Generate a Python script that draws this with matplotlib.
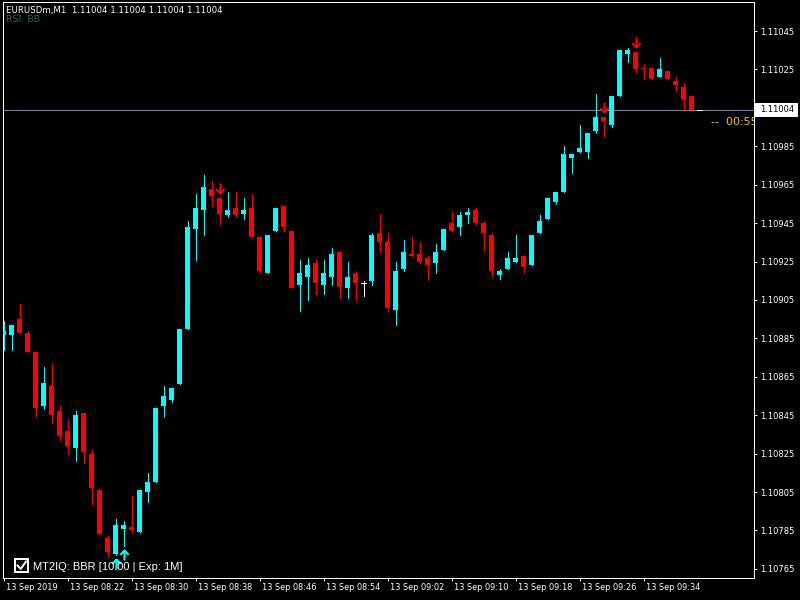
import numpy as np
import matplotlib
matplotlib.use("Agg")
import matplotlib.pyplot as plt
from matplotlib.path import Path
from matplotlib.patches import Rectangle
from matplotlib.lines import Line2D
from matplotlib.transforms import offset_copy, ScaledTranslation, IdentityTransform

# ---------------- data ----------------
symbol = "EURUSDm,M1"
indicators = "RSI  BB"
legend_label = "MT2IQ: BBR [10.00 | Exp: 1M]"
countdown = "--  00:55"

# OHLC in price points (1e-5)
open_pts = [110887, 110887, 110895, 110888, 110878, 110850, 110860, 110847, 110837, 110828,
            110846, 110825, 110806, 110781, 110773, 110786, 110787, 110784, 110805, 110810,
            110850, 110853, 110861, 110890, 110942, 110952, 110963, 110958, 110949, 110953,
            110950, 110953, 110938, 110919, 110941, 110954, 110941, 110913, 110917, 110924,
            110913, 110917, 110930, 110911, 110919, 110914, 110915, 110940, 110935, 110900,
            110921, 110929, 110929, 110927, 110924, 110931, 110945, 110943, 110949, 110952,
            110945, 110939, 110918, 110921, 110925, 110928, 110923, 110940, 110947, 110956,
            110961, 110979, 110982, 110982, 110993, 111000, 110996, 111011, 111033, 111034,
            111026, 111026, 111021, 111024, 111019, 111016, 111011, 111004]
high_pts = [110894, 110892, 110903, 110889, 110878, 110870, 110872, 110850, 110843, 110847,
            110846, 110827, 110806, 110782, 110791, 110790, 110803, 110806, 110815, 110849,
            110860, 110859, 110890, 110946, 110960, 110970, 110967, 110958, 110961, 110961,
            110958, 110960, 110938, 110939, 110953, 110954, 110941, 110926, 110927, 110926,
            110926, 110932, 110930, 110925, 110920, 110915, 110940, 110950, 110940, 110925,
            110936, 110938, 110935, 110928, 110934, 110942, 110951, 110951, 110953, 110953,
            110946, 110940, 110921, 110930, 110939, 110928, 110939, 110949, 110958, 110961,
            110985, 110981, 110996, 110992, 111012, 111000, 111011, 111035, 111036, 111034,
            111028, 111026, 111031, 111024, 111021, 111018, 111011, 111004]
low_pts = [110879, 110879, 110888, 110878, 110844, 110848, 110841, 110832, 110825, 110821,
           110820, 110799, 110783, 110771, 110772, 110777, 110784, 110784, 110800, 110810,
           110844, 110852, 110861, 110890, 110926, 110939, 110954, 110944, 110948, 110948,
           110947, 110938, 110919, 110919, 110941, 110941, 110911, 110899, 110905, 110908,
           110908, 110913, 110906, 110906, 110905, 110907, 110913, 110930, 110899, 110892,
           110920, 110928, 110924, 110916, 110919, 110931, 110941, 110939, 110945, 110944,
           110931, 110917, 110916, 110921, 110925, 110919, 110923, 110940, 110947, 110955,
           110961, 110971, 110982, 110979, 110992, 110990, 110995, 111011, 111029, 111023,
           111020, 111020, 111021, 111020, 111014, 111004, 111004, 111004]
close_pts = [110889, 110892, 110888, 110878, 110849, 110862, 110845, 110834, 110829, 110845,
             110826, 110807, 110783, 110774, 110788, 110788, 110785, 110806, 110810, 110849,
             110855, 110859, 110890, 110943, 110953, 110964, 110959, 110950, 110952, 110949,
             110952, 110938, 110920, 110939, 110953, 110943, 110911, 110919, 110923, 110914,
             110919, 110929, 110912, 110917, 110914, 110914, 110939, 110935, 110901, 110920,
             110930, 110928, 110925, 110923, 110930, 110942, 110941, 110949, 110951, 110945,
             110940, 110920, 110920, 110927, 110927, 110922, 110939, 110946, 110958, 110961,
             110981, 110981, 110984, 110992, 111000, 110998, 111011, 111035, 111035, 111025,
             111025, 111020, 111025, 111020, 111017, 111009, 111004, 111004]

buy_signals = [14, 15]
sell_signals = [27, 75, 79]

xtick_pos = [0, 8, 16, 24, 32, 40, 48, 56, 64, 72, 80]
xtick_labels = ["13 Sep 2019", "13 Sep 08:22", "13 Sep 08:30", "13 Sep 08:38",
                "13 Sep 08:46", "13 Sep 08:54", "13 Sep 09:02", "13 Sep 09:10",
                "13 Sep 09:18", "13 Sep 09:26", "13 Sep 09:34"]
ytick_values = [1.11045, 1.11025, 1.10985, 1.10965, 1.10945, 1.10925, 1.10905,
                1.10885, 1.10865, 1.10845, 1.10825, 1.10805, 1.10785, 1.10765]

# ---------------- drawing ----------------
o = np.array(open_pts) / 1e5
h = np.array(high_pts) / 1e5
l = np.array(low_pts) / 1e5
c = np.array(close_pts) / 1e5
x = np.arange(len(o))

W, H = 800, 600
BULL, BEAR, DOJI = "#00FFFF", "#FF0000", "#FFFFFF"
PX = 0.72  # 1 pixel in points

fig = plt.figure(figsize=(8, 6), dpi=100, facecolor="black")
ax = fig.add_axes([3 / W, 22 / H, 751 / W, 576 / H], facecolor="black")
ax.set_xlim(-0.0625, 93.8125)
ax.set_ylim(1.1076026, 1.1106010)

bull = c > o
bear = c < o
doji = c == o
cols = np.where(bull, BULL, np.where(bear, BEAR, DOJI))

# current price line
ax.axhline(c[-1], color="#778899", linewidth=PX, antialiased=False, zorder=1)

# wicks
ax.vlines(x, l, h, colors=cols, linewidth=PX, antialiased=False, zorder=2)
# bodies
nd = ~doji
bottom = np.minimum(o, c)
height = np.maximum(np.abs(c - o), 0.6e-5)
ax.bar(x[nd], height[nd], bottom=bottom[nd], width=0.625, color=cols[nd],
       linewidth=0, antialiased=False, zorder=3)
ax.hlines(o[doji], x[doji] - 0.3125, x[doji] + 0.3125, colors=DOJI,
          linewidth=PX, antialiased=False, zorder=3)

# signal arrows
down_path = Path([(0, 0.5), (0, -0.5), (-0.42, -0.06), (0, -0.5), (0.42, -0.06)],
                 [Path.MOVETO, Path.LINETO, Path.MOVETO, Path.LINETO, Path.LINETO])
up_path = Path([(0, -0.5), (0, 0.5), (-0.42, 0.06), (0, 0.5), (0.42, 0.06)],
               [Path.MOVETO, Path.LINETO, Path.MOVETO, Path.LINETO, Path.LINETO])
ax.plot(x[sell_signals], h[sell_signals], linestyle="none", marker=down_path,
        markersize=7.2, markerfacecolor="none", markeredgecolor=BEAR,
        markeredgewidth=1.5,
        transform=offset_copy(ax.transData, fig=fig, x=0, y=10.5, units="dots"),
        clip_on=False, zorder=6)
ax.plot(x[buy_signals], l[buy_signals], linestyle="none", marker=up_path,
        markersize=7.2, markerfacecolor="none", markeredgecolor=BULL,
        markeredgewidth=1.5,
        transform=offset_copy(ax.transData, fig=fig, x=0, y=-9, units="dots"),
        clip_on=False, zorder=6)

# axes styling
for s in ax.spines.values():
    s.set_color("white")
    s.set_linewidth(PX)
ax.yaxis.tick_right()
ax.set_yticks(ytick_values)
ax.set_yticklabels([f"{v:.5f}" for v in ytick_values])
ax.tick_params(axis="y", colors="white", length=3 * PX, width=PX, pad=2.2,
               labelsize=6, direction="out")
ax.set_xticks(xtick_pos)
ax.set_xticklabels(xtick_labels)
ax.tick_params(axis="x", colors="white", length=3 * PX, width=PX, pad=1.5,
               labelsize=5.9, direction="out")
shift = ScaledTranslation(2 / 100, 0, fig.dpi_scale_trans)
for lab in ax.get_xticklabels():
    lab.set_ha("left")
    lab.set_transform(lab.get_transform() + shift)

# countdown text (clipped at chart border)
ax.annotate(countdown, xy=(x[-1], c[-1]), xytext=(11.5, -12),
            textcoords="offset pixels", color="#E8CC00", fontsize=8,
            ha="left", va="center", clip_on=True, annotation_clip=False, zorder=7)

# current price label on the right scale
y_disp = ax.transData.transform((0, c[-1]))[1]
fig.patches.append(Rectangle((755, y_disp - 7), 43, 14, transform=IdentityTransform(),
                             facecolor="white", edgecolor="none", zorder=5))
fig.text(760, y_disp, f"{c[-1]:.5f}", transform=IdentityTransform(), color="black",
         fontsize=6, ha="left", va="center", zorder=6)

# header
header = f"{symbol}  " + " ".join(f"{v:.5f}" for v in (o[-1], h[-1], l[-1], c[-1]))
fig.text(6 / W, 1 - 10 / H, header, color="white", fontsize=6.2, ha="left", va="center")
fig.text(6 / W, 1 - 20 / H, indicators, color="#3A5F5F", fontsize=6.8, ha="left",
         va="center")

# legend (checkbox + label)
fig.patches.append(Rectangle((15 / W, 1 - 572 / H), 13 / W, 13 / H,
                             transform=fig.transFigure, facecolor="black",
                             edgecolor="white", linewidth=1.4, zorder=5))
fig.lines.append(Line2D([17.5 / W, 20.7 / W, 26 / W],
                        [1 - 565.5 / H, 1 - 569 / H, 1 - 561.5 / H],
                        transform=fig.transFigure, color="white", linewidth=1.4,
                        zorder=6))
fig.text(33 / W, 1 - 566.5 / H, legend_label, color="white", fontsize=8,
         family="Liberation Sans", ha="left", va="center", zorder=6)

fig.savefig("out.png", dpi=100, facecolor="black")
